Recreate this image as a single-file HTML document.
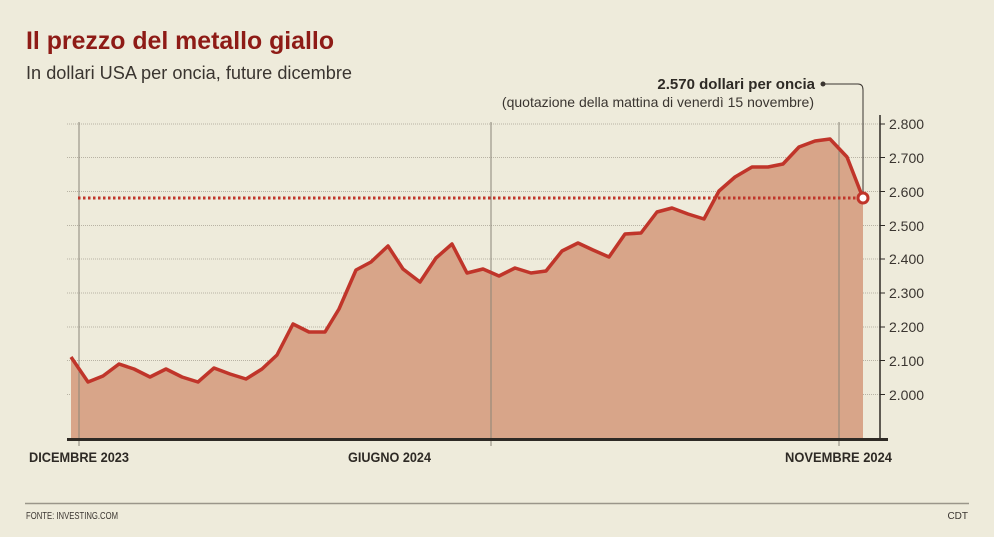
<!DOCTYPE html>
<html><head><meta charset="utf-8"><style>
body{margin:0;background:#eeebdb;}
svg{display:block;font-family:"Liberation Sans",sans-serif;}
</style></head><body>
<svg width="994" height="537" viewBox="0 0 994 537">
<rect width="994" height="537" fill="#eeebdb"/>
<text x="26" y="49" font-size="25" font-weight="bold" fill="#8e1b16" textLength="308" lengthAdjust="spacingAndGlyphs">Il prezzo del metallo giallo</text>
<text x="26" y="79" font-size="18" fill="#3a3530" textLength="326" lengthAdjust="spacingAndGlyphs">In dollari USA per oncia, future dicembre</text>
<g stroke="#b8b3a4" stroke-width="1" stroke-dasharray="1,1">
<line x1="67" x2="880" y1="124" y2="124"/><line x1="67" x2="880" y1="157.5" y2="157.5"/>
<line x1="67" x2="880" y1="191.5" y2="191.5"/><line x1="67" x2="880" y1="225.5" y2="225.5"/>
<line x1="67" x2="880" y1="259" y2="259"/><line x1="67" x2="880" y1="293" y2="293"/>
<line x1="67" x2="880" y1="327" y2="327"/><line x1="67" x2="880" y1="360.5" y2="360.5"/>
<line x1="67" x2="880" y1="394.5" y2="394.5"/>
</g>
<polygon fill="#d8a589" points="71,357 88,382 103,376 119,364 134,369 150,377 166,369 182,377 198,382 214,368 230,374 246,379 262,369 277,355 293,324 309,332 325,332 339,309 356,270 371,262 388,246 403,269 420,282 436,258 452,244 467,273 483,269 499,276 515,268 531,273 546,271 562,251 578,243 593,250 609,257 625,234 641,233 657,212 672,208 688,214 704,219 719,191 735,177 752,167 768,167 783,164 799,147 815,141 830,139 847,157 863,198 863,439 71,439"/>
<g stroke="#8a8578" stroke-width="1"><line x1="79" y1="122" x2="79" y2="446"/><line x1="491" y1="122" x2="491" y2="446"/><line x1="839" y1="122" x2="839" y2="446"/></g>
<line x1="78" y1="198" x2="860" y2="198" stroke="#c0352a" stroke-width="3" stroke-dasharray="2.5,2.5"/>
<polyline fill="none" stroke="#c0352a" stroke-width="3.5" stroke-linejoin="round" points="71,357 88,382 103,376 119,364 134,369 150,377 166,369 182,377 198,382 214,368 230,374 246,379 262,369 277,355 293,324 309,332 325,332 339,309 356,270 371,262 388,246 403,269 420,282 436,258 452,244 467,273 483,269 499,276 515,268 531,273 546,271 562,251 578,243 593,250 609,257 625,234 641,233 657,212 672,208 688,214 704,219 719,191 735,177 752,167 768,167 783,164 799,147 815,141 830,139 847,157 863,198"/>
<path d="M823,84 H858 Q863,84 863,90 V192" fill="none" stroke="#3a3530" stroke-width="1"/>
<circle cx="823" cy="84" r="2.5" fill="#3a3530"/>
<circle cx="863" cy="198" r="5" fill="#fff" stroke="#c0352a" stroke-width="3"/>
<line x1="880" y1="115" x2="880" y2="440" stroke="#2e2a25" stroke-width="1.5"/>
<line x1="67" y1="439.5" x2="888" y2="439.5" stroke="#2e2a25" stroke-width="3"/>
<g stroke="#2e2a25" stroke-width="1"><line x1="880" x2="885" y1="124" y2="124"/><line x1="880" x2="885" y1="157.5" y2="157.5"/><line x1="880" x2="885" y1="191.5" y2="191.5"/><line x1="880" x2="885" y1="225.5" y2="225.5"/><line x1="880" x2="885" y1="259" y2="259"/><line x1="880" x2="885" y1="293" y2="293"/><line x1="880" x2="885" y1="327" y2="327"/><line x1="880" x2="885" y1="360.5" y2="360.5"/><line x1="880" x2="885" y1="394.5" y2="394.5"/></g>
<g font-size="14" fill="#3a3530">
<text x="889" y="129">2.800</text><text x="889" y="163">2.700</text><text x="889" y="197">2.600</text><text x="889" y="231">2.500</text><text x="889" y="264">2.400</text><text x="889" y="298">2.300</text><text x="889" y="332">2.200</text><text x="889" y="366">2.100</text><text x="889" y="400">2.000</text>
</g>
<text x="815" y="89" font-size="15" font-weight="bold" fill="#2e2a25" text-anchor="end">2.570 dollari per oncia</text>
<text x="814" y="107" font-size="14" fill="#3a3530" text-anchor="end">(quotazione della mattina di venerdì 15 novembre)</text>
<g font-size="14" font-weight="bold" fill="#2e2a25">
<text x="29" y="462" textLength="100" lengthAdjust="spacingAndGlyphs">DICEMBRE 2023</text>
<text x="348" y="462" textLength="83" lengthAdjust="spacingAndGlyphs">GIUGNO 2024</text>
<text x="785" y="462" textLength="107" lengthAdjust="spacingAndGlyphs">NOVEMBRE 2024</text>
</g>
<line x1="25" y1="503.5" x2="969" y2="503.5" stroke="#9a968a" stroke-width="1.5"/>
<text x="26" y="519" font-size="10" fill="#3a3530" textLength="92" lengthAdjust="spacingAndGlyphs">FONTE: INVESTING.COM</text>
<text x="968" y="519" font-size="10" fill="#3a3530" text-anchor="end">CDT</text>
</svg>
</body></html>
